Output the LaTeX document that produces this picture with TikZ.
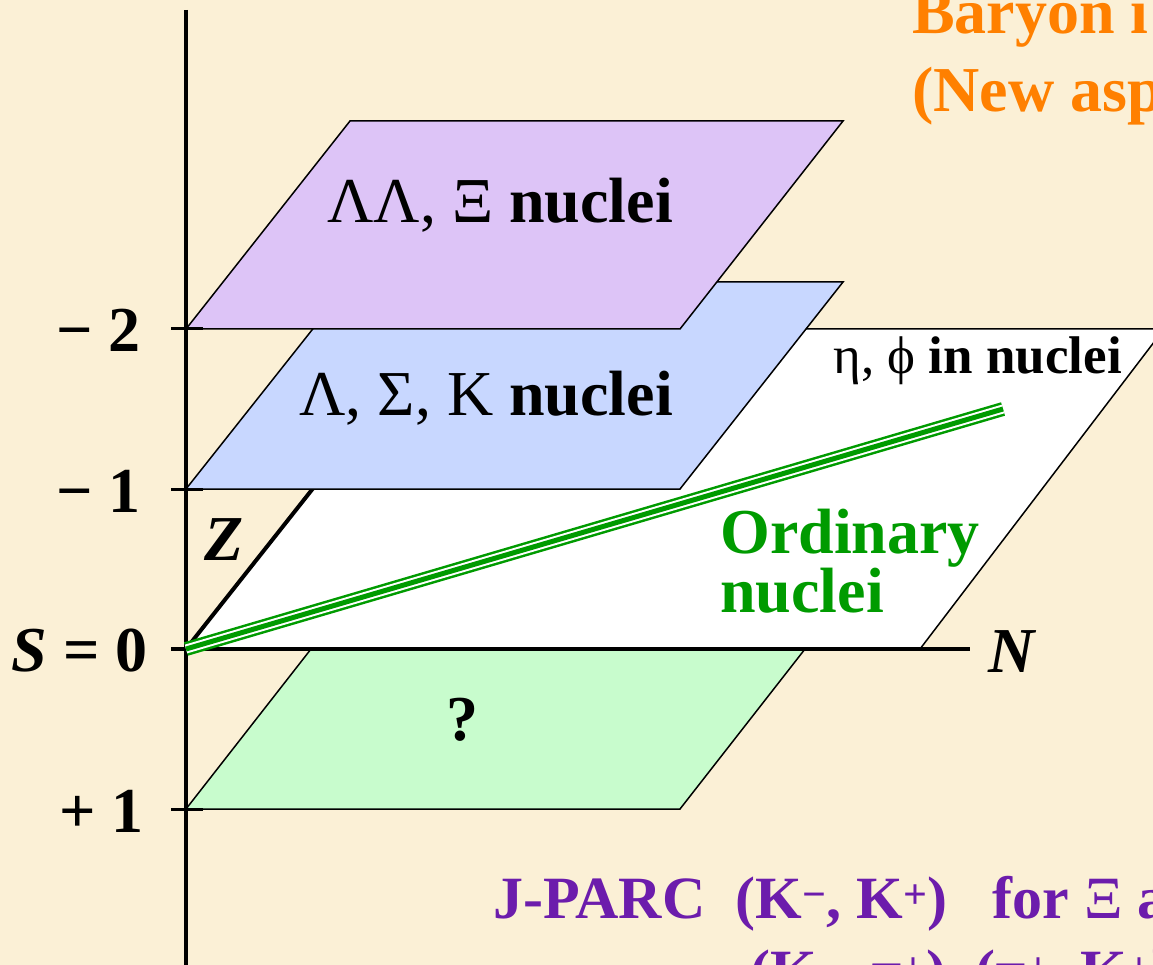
\documentclass[tikz,border=0pt]{standalone}
\usepackage{fontspec}
\setmainfont{Liberation Serif}
\definecolor{parchment}{RGB}{251,240,214}
\definecolor{llfill}{RGB}{221,196,247}
\definecolor{lsfill}{RGB}{200,215,255}
\definecolor{posfill}{RGB}{200,252,205}
\definecolor{ordgreen}{RGB}{0,155,0}
\definecolor{titleorange}{RGB}{255,128,0}
\definecolor{jparcpurple}{RGB}{108,28,172}
\tikzset{
  plane/.style={draw=black, line width=1.5pt, line join=miter},
  axisline/.style={line width=4pt},
  bigtext/.style={font=\fontsize{64}{59}\selectfont\bfseries, inner sep=0pt},
  midtext/.style={font=\fontsize{53}{60}\selectfont\bfseries, inner sep=0pt},
  bottext/.style={font=\fontsize{60}{72}\selectfont\bfseries, inner sep=0pt, text=jparcpurple},
}

\begin{document}
\begin{tikzpicture}[x=1pt, y=-1pt]
  % Background
  \fill[parchment] (0,0) rectangle (1153,965);
  \clip (0,0) rectangle (1153,965);

  % Strangeness planes, from S = +1 up to S = -2
  \filldraw[plane, fill=posfill] (186,809) -- (680,809) -- (805,649) -- (311,649) -- cycle;
  \filldraw[plane, fill=white] (186,649) -- (920,649) -- (1164,329) -- (439,329) -- cycle;
  \coordinate (origin) at (186,649);
  \coordinate (ztop) at (439,329);
  \draw[axisline] (origin) -- (ztop);
  \filldraw[plane, fill=lsfill] (186,489) -- (680,489) -- (843,282) -- (350,282) -- cycle;
  \filldraw[plane, fill=llfill] (186,329) -- (680,329) -- (843,121) -- (350,121) -- cycle;

  % Axes
  \coordinate (stop) at (186,10);
  \coordinate (sbot) at (186,975);
  \coordinate (nend) at (970,649);
  \draw[axisline] (stop) -- (sbot);
  \draw[axisline] (171,649) -- (nend);
  \foreach \ty in {329,489,809}
    \draw[line width=3pt] (171,\ty) -- (203,\ty);

  % Ordinary nuclei line
  \coordinate (ordend) at (1003,409);
  \draw[ordgreen, line width=2.5pt, double=white, double distance=9pt] (origin) -- (ordend);
  \draw[ordgreen, line width=5pt] (origin) -- (ordend);

  % Labels
  \node[bigtext, anchor=base east] (sm2) at (141,352) {− 2};
  \node[bigtext, anchor=base east] (sm1) at (141,512) {− 1};
  \node[bigtext, anchor=base east] (s0) at (148,671) {\textit{S} = 0};
  \node[bigtext, anchor=base east] (sp1) at (144,832) {+ 1};
  \node[bigtext, anchor=base west] (zlab) at (204,560) {\textit{Z}};
  \node[bigtext, anchor=base west] (nlab) at (988,672) {\textit{N}};

  \node[bigtext, anchor=base east] (llab) at (673,223) {\textmd{ΛΛ, Ξ} nuclei};
  \node[bigtext, anchor=base east] (lsk) at (673,415) {\textmd{Λ, Σ, K} nuclei};
  \node[midtext, anchor=base east] (etaphi) at (1122,373) {\textmd{η, ϕ} in nuclei};
  \node[bigtext, anchor=base west, text=ordgreen, align=left] (ord) at (720,612) {Ordinary\\nuclei};
  \node[bigtext, anchor=base] (qmark) at (462,740) {?};

  \node[bigtext, anchor=base west, text=titleorange] (title1) at (912,34) {Baryon i};
  \node[bigtext, anchor=base west, text=titleorange] (title2) at (912,112) {(New asp};

  \node[bottext, anchor=base west] (jparc1) at (493,918)
    {J-PARC\ \ (K\textsuperscript{−}, K\textsuperscript{+})\ \ \ for \textmd{Ξ} a};
  \node[bottext, anchor=base west] (jparc2) at (750,991)
    {(K\textsuperscript{−}, \textmd{π}\textsuperscript{+})\ \ (\textmd{π}\textsuperscript{+}, K\textsuperscript{+})};
\end{tikzpicture}
\end{document}
